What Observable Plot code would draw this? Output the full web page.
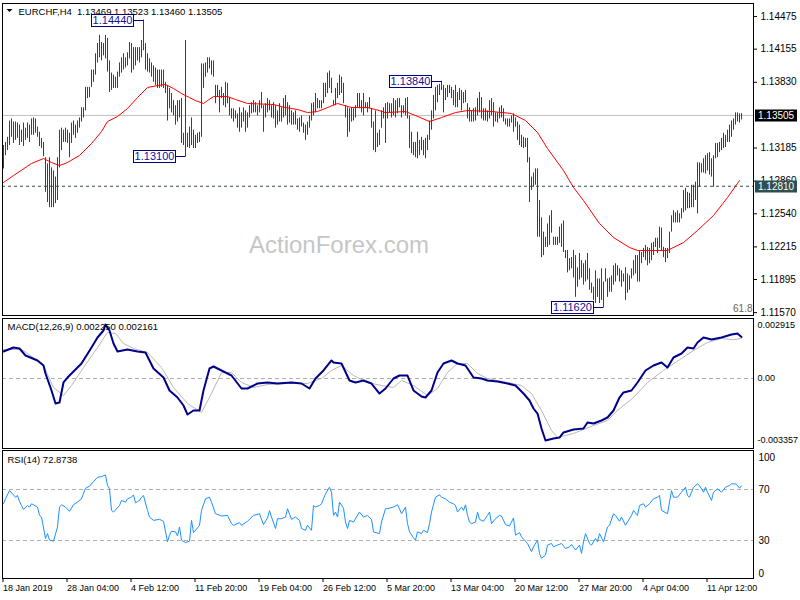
<!DOCTYPE html>
<html><head><meta charset="utf-8">
<script src="https://cdn.jsdelivr.net/npm/d3@7"></script>
<script src="https://cdn.jsdelivr.net/npm/@observablehq/plot@0.6"></script>
<style>
body{margin:0;background:#fff;}
#wrap{position:relative;width:800px;height:600px;overflow:hidden;background:#fff;}
#wrap svg{position:absolute;left:0;overflow:visible;}
</style></head><body><div id="wrap"></div>
<script>
// ---- data ----
const highs = [1.1321,1.1324,1.1329,1.1345,1.1347,1.1344,1.1344,1.1343,1.1341,1.1336,
1.1343,1.1338,1.1343,1.1341,1.1347,1.1348,1.1347,1.1339,1.1334,1.1328,
1.1324,1.1309,1.1303,1.1309,1.1299,1.1296,1.1290,1.1309,1.1336,1.1338,
1.1336,1.1338,1.1336,1.1333,1.1343,1.1345,1.1341,1.1345,1.1348,1.1358,
1.1358,1.1378,1.1378,1.1378,1.1395,1.1395,1.1411,1.1421,1.1429,1.1422,
1.1421,1.1429,1.1426,1.1404,1.1392,1.1390,1.1388,1.1393,1.1402,1.1407,
1.1411,1.1407,1.1412,1.1422,1.1421,1.1417,1.1417,1.1417,1.1417,1.1424,
1.1444,1.1421,1.1411,1.1406,1.1402,1.1399,1.1397,1.1395,1.1395,1.1395,
1.1395,1.1383,1.1380,1.1377,1.1372,1.1365,1.1360,1.1365,1.1365,1.1367,
1.1333,1.1424,1.1333,1.1339,1.1348,1.1336,1.1331,1.1333,1.1334,1.1401,
1.1401,1.1402,1.1407,1.1407,1.1404,1.1404,1.1380,1.1380,1.1375,1.1378,
1.1372,1.1383,1.1382,1.1368,1.1357,1.1357,1.1355,1.1352,1.1358,1.1353,
1.1358,1.1355,1.1353,1.1360,1.1363,1.1365,1.1363,1.1360,1.1365,1.1373,
1.1360,1.1362,1.1367,1.1365,1.1360,1.1363,1.1360,1.1355,1.1362,1.1358,
1.1367,1.1370,1.1363,1.1360,1.1355,1.1353,1.1355,1.1347,1.1348,1.1350,
1.1343,1.1341,1.1344,1.1350,1.1362,1.1363,1.1372,1.1367,1.1365,1.1365,
1.1382,1.1382,1.1392,1.1394,1.1387,1.1365,1.1377,1.1382,1.1390,1.1388,
1.1382,1.1360,1.1358,1.1357,1.1358,1.1357,1.1360,1.1372,1.1372,1.1365,
1.1372,1.1363,1.1363,1.1368,1.1357,1.1344,1.1355,1.1333,1.1336,1.1355,
1.1358,1.1362,1.1363,1.1362,1.1362,1.1367,1.1365,1.1367,1.1367,1.1360,
1.1360,1.1367,1.1368,1.1350,1.1334,1.1324,1.1324,1.1334,1.1326,1.1329,
1.1326,1.1328,1.1331,1.1345,1.1355,1.1370,1.1378,1.1380,1.1381,1.1384,
1.1380,1.1377,1.1380,1.1380,1.1378,1.1375,1.1380,1.1373,1.1377,1.1375,
1.1373,1.1375,1.1362,1.1358,1.1355,1.1357,1.1358,1.1367,1.1373,1.1368,
1.1357,1.1357,1.1355,1.1365,1.1367,1.1363,1.1353,1.1353,1.1358,1.1360,
1.1357,1.1347,1.1347,1.1347,1.1350,1.1352,1.1348,1.1344,1.1341,1.1331,
1.1329,1.1328,1.1328,1.1309,1.1290,1.1294,1.1298,1.1298,1.1267,1.1250,
1.1236,1.1231,1.1244,1.1252,1.1257,1.1231,1.1231,1.1231,1.1241,1.1244,
1.1247,1.1218,1.1218,1.1210,1.1211,1.1218,1.1213,1.1201,1.1215,1.1208,
1.1205,1.1208,1.1215,1.1200,1.1186,1.1182,1.1198,1.1190,1.1190,1.1200,
1.1187,1.1200,1.1190,1.1191,1.1193,1.1203,1.1205,1.1203,1.1200,1.1198,
1.1195,1.1201,1.1195,1.1193,1.1200,1.1208,1.1213,1.1213,1.1218,1.1216,
1.1220,1.1223,1.1221,1.1220,1.1225,1.1226,1.1230,1.1230,1.1241,1.1240,
1.1221,1.1220,1.1220,1.1236,1.1252,1.1257,1.1255,1.1257,1.1254,1.1259,
1.1277,1.1279,1.1275,1.1274,1.1282,1.1282,1.1285,1.1304,1.1304,1.1303,
1.1308,1.1311,1.1313,1.1314,1.1308,1.1311,1.1323,1.1323,1.1324,1.1328,
1.1333,1.1331,1.1336,1.1341,1.1345,1.1347,1.1353,1.1353,1.1352,1.13523];

const lows = [1.1298,1.1311,1.1316,1.1321,1.1329,1.1323,1.1326,1.1328,1.1321,1.1324,
1.1320,1.1326,1.1328,1.1324,1.1331,1.1331,1.1333,1.1329,1.1320,1.1318,
1.1310,1.1275,1.1265,1.1260,1.1260,1.1260,1.1264,1.1267,1.1299,1.1316,
1.1324,1.1324,1.1323,1.1309,1.1323,1.1331,1.1328,1.1333,1.1338,1.1344,
1.1348,1.1355,1.1367,1.1368,1.1378,1.1383,1.1390,1.1402,1.1407,1.1404,
1.1409,1.1406,1.1393,1.1373,1.1375,1.1377,1.1377,1.1377,1.1388,1.1392,
1.1395,1.1397,1.1399,1.1406,1.1392,1.1395,1.1399,1.1404,1.1402,1.1407,
1.1414,1.1395,1.1393,1.1392,1.1388,1.1383,1.1380,1.1377,1.1377,1.1378,
1.1377,1.1372,1.1345,1.1357,1.1353,1.1350,1.1341,1.1344,1.1348,1.1323,
1.1321,1.1310,1.1319,1.1318,1.1321,1.1318,1.1318,1.1323,1.1324,1.1329,
1.1377,1.1388,1.1392,1.1396,1.1390,1.1388,1.1362,1.1368,1.1353,1.1367,
1.1360,1.1358,1.1362,1.1350,1.1347,1.1344,1.1347,1.1338,1.1334,1.1338,
1.1344,1.1334,1.1338,1.1348,1.1352,1.1353,1.1353,1.1350,1.1353,1.1357,
1.1334,1.1348,1.1353,1.1355,1.1348,1.1347,1.1338,1.1341,1.1344,1.1344,
1.1348,1.1350,1.1341,1.1343,1.1341,1.1341,1.1341,1.1336,1.1334,1.1339,
1.1333,1.1326,1.1331,1.1338,1.1345,1.1350,1.1353,1.1357,1.1357,1.1357,
1.1362,1.1368,1.1372,1.1377,1.1372,1.1360,1.1360,1.1367,1.1370,1.1372,
1.1362,1.1348,1.1329,1.1334,1.1344,1.1345,1.1348,1.1358,1.1357,1.1353,
1.1350,1.1357,1.1353,1.1357,1.1338,1.1316,1.1314,1.1319,1.1321,1.1338,
1.1347,1.1323,1.1347,1.1353,1.1348,1.1350,1.1348,1.1352,1.1358,1.1348,
1.1352,1.1350,1.1347,1.1318,1.1313,1.1311,1.1309,1.1308,1.1311,1.1316,
1.1311,1.1308,1.1316,1.1326,1.1336,1.1347,1.1355,1.1363,1.1370,1.1375,
1.1353,1.1365,1.1368,1.1372,1.1367,1.1360,1.1358,1.1358,1.1365,1.1355,
1.1362,1.1363,1.1347,1.1344,1.1344,1.1344,1.1345,1.1350,1.1353,1.1347,
1.1345,1.1345,1.1344,1.1347,1.1350,1.1339,1.1344,1.1343,1.1347,1.1348,
1.1344,1.1341,1.1339,1.1339,1.1343,1.1334,1.1339,1.1326,1.1321,1.1319,
1.1318,1.1319,1.1304,1.1265,1.1277,1.1280,1.1282,1.1231,1.1231,1.1211,
1.1213,1.1221,1.1221,1.1223,1.1235,1.1223,1.1223,1.1223,1.1225,1.1221,
1.1216,1.1210,1.1196,1.1198,1.1200,1.1191,1.1172,1.1182,1.1189,1.1191,
1.1184,1.1187,1.1189,1.1179,1.1176,1.1169,1.1166,1.1172,1.1166,1.1169,
1.1162,1.1187,1.1172,1.1177,1.1177,1.1184,1.1187,1.1193,1.1187,1.1182,
1.1187,1.1169,1.1176,1.1179,1.1190,1.1193,1.1195,1.1187,1.1187,1.1205,
1.1211,1.1208,1.1203,1.1205,1.1208,1.1213,1.1221,1.1215,1.1220,1.1218,
1.1211,1.1206,1.1210,1.1215,1.1236,1.1245,1.1245,1.1245,1.1245,1.1249,
1.1255,1.1257,1.1259,1.1259,1.1260,1.1260,1.1267,1.1254,1.1280,1.1294,
1.1294,1.1293,1.1296,1.1292,1.1290,1.1280,1.1308,1.1309,1.1314,1.1316,
1.1318,1.1319,1.1324,1.1324,1.1329,1.1336,1.1341,1.1344,1.1343,1.13460];

const maBars = [0,5,14,20,24,28,32,38,44,49,52,57,62,67,72,77,81,85,89,93,96,100,102,105,112,116,122,135,141,147,152,157,162,167,174,182,186,191,201,206,213,219,226,232,244,254,261,267,272,280,285,290,298,305,313,317,332,340,347,355,362,368];
const maValues = [1.12847,1.12915,1.13033,1.13082,1.13043,1.13013,1.13043,1.13112,1.13229,1.13347,1.13445,1.13494,1.13573,1.13680,1.13779,1.13798,1.13808,1.13769,1.13720,1.13680,1.13651,1.13622,1.13651,1.13690,1.13690,1.13661,1.13622,1.13612,1.13582,1.13563,1.13533,1.13543,1.13582,1.13622,1.13582,1.13582,1.13563,1.13533,1.13543,1.13504,1.13445,1.13484,1.13533,1.13553,1.13543,1.13524,1.13455,1.13337,1.13180,1.12964,1.12798,1.12670,1.12444,1.12307,1.12209,1.12180,1.12180,1.12258,1.12376,1.12523,1.12699,1.12866];

const macdBars = [0,5,8,11,17,20,21,24,26,28,30,32,39,44,47,50,51,53,55,57,62,67,71,75,80,83,87,90,92,95,98,100,103,105,109,114,119,122,127,132,137,144,149,153,156,160,164,165,169,173,176,180,184,188,191,195,198,202,205,209,211,214,217,220,224,227,231,235,239,242,247,252,256,260,263,265,267,269,271,275,278,280,285,290,292,295,299,302,305,308,310,314,317,321,325,329,332,335,339,342,345,347,350,354,359,364,367,369];
const macdValues = [0.001461,0.001677,0.001623,0.001244,0.000974,0.000703,0.000271,-0.000649,-0.001353,-0.001298,-0.000216,0.000054,0.000812,0.001677,0.002218,0.002597,0.002915,0.002597,0.001894,0.001461,0.001569,0.001461,0.001407,0.000541,0.000054,-0.000649,-0.001028,-0.001461,-0.001948,-0.001731,-0.001731,-0.000649,0.000541,0.000649,0.000433,0.000162,-0.000541,-0.000541,-0.000271,-0.000216,-0.000271,-0.000216,-0.000271,-0.000541,0,0.000433,0.000974,0.000866,0.000812,-0.000108,-0.000216,-0.000108,-0.000271,-0.000812,-0.000541,0,0.000162,0.000162,-0.000649,-0.000974,-0.001028,-0.000649,0.000325,0.000812,0.000974,0.000812,0.000703,0.000054,0,-0.000108,-0.000162,-0.000271,-0.000379,-0.000812,-0.001190,-0.001623,-0.001894,-0.002705,-0.003357,-0.003246,-0.003192,-0.002921,-0.002759,-0.002705,-0.002380,-0.002435,-0.002272,-0.002110,-0.001731,-0.001028,-0.000757,-0.000649,-0.000216,0.000433,0.000703,0.000866,0.000595,0.001136,0.001353,0.001677,0.001623,0.001948,0.002218,0.002110,0.002218,0.002380,0.002435,0.002250];

const signalBars = [0,9,15,20,25,30,34,40,47,52,56,60,65,72,79,85,92,99,104,109,114,119,125,132,142,152,159,164,169,175,182,189,195,199,205,212,217,222,227,232,237,242,252,259,264,269,274,277,285,295,302,307,315,322,330,339,345,352,359,365,369];
const signalValues = [0.001569,0.001569,0.001136,0.000703,-0.000487,-0.000920,-0.000379,0.000595,0.001677,0.002489,0.002435,0.001894,0.001623,0.001407,0.000595,-0.000487,-0.001353,-0.001839,-0.000812,0.000325,0.000325,-0.000216,-0.000487,-0.000325,-0.000271,-0.000271,0,0.000433,0.000703,0.000162,-0.000216,-0.000379,-0.000487,-0.000108,-0.000379,-0.000920,-0.000541,0.000325,0.000812,0.000812,0.000271,0,-0.000216,-0.000379,-0.000812,-0.001731,-0.002813,-0.003192,-0.002976,-0.002543,-0.002272,-0.001731,-0.001028,-0.000216,0.000433,0.001082,0.001515,0.001948,0.002164,0.002100,0.002161];

const rsiBars = [0,1,3,5,6,7,8,9,10,12,13,14,15,17,18,19,21,22,23,25,27,28,29,31,33,35,37,39,41,43,45,47,49,51,52,53,54,55,58,59,61,62,64,65,66,67,68,69,70,72,73,75,78,80,82,83,84,86,87,88,89,91,93,94,95,97,98,99,101,103,104,106,109,112,114,115,118,119,122,125,128,130,132,133,134,136,137,139,141,142,144,146,148,149,151,152,154,155,156,158,159,161,163,164,165,166,167,168,170,171,172,173,175,178,180,182,184,185,188,189,191,193,195,197,198,199,201,202,203,205,206,207,209,210,212,213,214,216,218,219,221,223,225,226,227,229,230,231,232,233,234,236,237,238,240,242,243,244,246,248,249,251,253,255,256,258,259,262,264,265,267,268,269,271,272,274,275,277,279,281,283,284,286,288,289,290,291,293,294,296,297,298,300,302,303,305,306,308,309,311,314,315,317,318,320,321,323,325,327,328,329,332,334,335,337,339,341,342,343,345,347,348,350,351,352,354,355,357,359,361,363,364,366,367,368,369];
const rsiValues = [58.8,62.7,69.2,65.8,64.0,65.3,60.6,57.5,54.4,57.5,56.2,58.8,58.0,56.2,49.7,48.4,31.6,35.4,30.3,29.5,40.6,56.2,58.0,56.2,52.9,58.0,60.1,62.7,71.0,72.6,76.2,79.6,80.1,81.4,73.1,70.5,53.6,52.3,57.5,61.4,60.1,62.7,64.0,65.8,59.6,60.6,61.4,64.0,65.3,53.6,48.4,45.8,46.6,45.1,29.0,34.2,37.3,36.8,33.6,40.6,30.3,28.4,29.5,45.8,36.2,39.9,41.9,53.6,62.7,64.0,60.1,51.0,49.2,49.7,43.2,41.9,44.0,41.9,45.1,49.7,51.0,42.5,47.7,53.4,48.4,39.4,47.1,47.1,48.4,54.9,46.6,48.4,45.8,39.4,38.0,41.9,38.0,57.5,56.2,57.5,58.8,66.6,71.8,67.9,49.7,52.3,48.4,60.1,55.4,44.5,39.4,45.8,44.5,52.3,48.4,49.7,46.6,36.8,35.4,44.5,54.9,55.4,56.2,58.0,54.9,51.0,56.2,43.2,36.8,32.1,30.3,36.8,35.4,38.0,36.2,43.2,52.3,64.0,65.8,64.0,62.7,60.1,58.8,57.5,52.3,56.2,53.6,58.0,49.7,44.5,43.2,44.5,52.3,46.6,45.1,49.7,52.3,43.2,47.1,49.7,49.2,42.5,41.4,47.7,34.2,36.2,32.9,27.7,21.2,25.0,30.3,19.9,16.0,18.6,26.4,27.7,25.0,26.4,27.7,23.8,25.0,26.9,22.5,26.4,19.9,29.0,35.4,27.7,26.4,31.6,29.0,35.4,29.0,40.6,41.9,51.0,49.7,45.1,48.4,41.9,49.7,53.6,49.7,57.5,58.8,56.2,58.8,62.7,64.0,65.3,53.6,51.0,69.2,64.0,64.0,67.9,71.8,65.3,64.0,71.8,74.4,73.1,67.9,71.8,67.9,61.4,67.9,70.5,67.9,71.8,73.1,74.4,74.4,73.1,71.0,72.9];

const timeTickBars = [0,32,64,96,128,160,192,224,256,288,320,352];
const timeTickLabels = ["18 Jan 2019","28 Jan 04:00","4 Feb 12:00","11 Feb 20:00","19 Feb 04:00","26 Feb 12:00","5 Mar 20:00","13 Mar 04:00","20 Mar 12:00","27 Mar 20:00","4 Apr 04:00","11 Apr 12:00"];
const priceTicks = [1.14475,1.14155,1.13830,1.13185,1.12860,1.12540,1.12215,1.11895,1.11570];
const macdTicks = [0.002915,0,-0.003357];
const rsiLevels = [70,30];
const swingBars = [70,91,219,300];
const swingPrices = [1.14440,1.13100,1.13840,1.11620];
const currentPrice = 1.13505;
const linePrice = 1.12810;

// ---- drawing ----
const FONT = "'Liberation Sans', Arial, sans-serif";
const BAR = "#1b4a66";
const xDomain = [-0.5, 375];
const wrap = document.getElementById("wrap");
const style = {fontFamily: FONT, fontSize: "10px", background: "transparent", color: "#000", overflow: "visible"};

const bars = highs.map((h, i) => ({i, h, l: lows[i]}));
const ma = maBars.map((b, k) => ({i: b, v: maValues[k]}));
const macd = macdBars.map((b, k) => ({i: b, v: macdValues[k]}));
const sig = signalBars.map((b, k) => ({i: b, v: signalValues[k]}));
const rsi = rsiBars.map((b, k) => ({i: b, v: rsiValues[k]}));

const main = Plot.plot({
  width: 800, height: 317, marginLeft: 2, marginRight: 47, marginTop: 3, marginBottom: 2,
  style,
  x: {domain: xDomain, axis: null},
  y: {domain: [1.11542, 1.14603], axis: null},
  marks: [
    Plot.text(["ActionForex.com"], {frameAnchor: "top-left", dx: 336.5, dy: 242, text: d => d, fill: "#c6c6c6", fontSize: 24, textAnchor: "middle", lineAnchor: "middle"}),
    Plot.ruleY([currentPrice], {stroke: "#c0c0c0"}),
    Plot.ruleY([linePrice], {stroke: "#2f4f4f", strokeDasharray: "3,3"}),
    Plot.ruleX(bars, {x: "i", y1: "l", y2: "h", stroke: BAR, strokeWidth: 1}),
    Plot.line(ma, {x: "i", y: "v", stroke: "#ff0000", strokeWidth: 1}),
    Plot.axisY(priceTicks, {anchor: "right", label: null, tickSize: 3, tickPadding: 4, tickFormat: d => d.toFixed(5), fontSize: 10}),
    Plot.text(["EURCHF,H4  1.13469 1.13523 1.13460 1.13505"], {frameAnchor: "top-left", dx: 16, dy: 8, text: d => d, textAnchor: "start", lineAnchor: "middle", fill: "#000", fontSize: 9.5}),
    Plot.text(["61.8"], {frameAnchor: "bottom-right", dx: -1, dy: -6.5, text: d => d, textAnchor: "end", lineAnchor: "middle", fill: "#6a6256"}),
    Plot.frame({stroke: "#000"})
  ]
});
main.style.top = "0px";
wrap.appendChild(main);

const macdPlot = Plot.plot({
  width: 800, height: 132, marginLeft: 2, marginRight: 47, marginTop: 1, marginBottom: 1,
  style,
  x: {domain: xDomain, axis: null},
  y: {domain: [-0.003787, 0.003246], axis: null},
  marks: [
    Plot.ruleY([0], {stroke: "#b0b0b0", strokeDasharray: "4,3"}),
    Plot.line(sig, {x: "i", y: "v", stroke: "#b8b8b8", strokeWidth: 1}),
    Plot.line(macd, {x: "i", y: "v", stroke: "#00008b", strokeWidth: 2}),
    Plot.axisY(macdTicks, {anchor: "right", label: null, tickSize: 0, tickPadding: 4, tickFormat: d => d === 0 ? "0.00" : d.toFixed(6), fontSize: 9}),
    Plot.text(["MACD(12,26,9) 0.002250 0.002161"], {frameAnchor: "top-left", dx: 5, dy: 8, text: d => d, textAnchor: "start", lineAnchor: "middle", fill: "#000", fontSize: 9.5}),
    Plot.frame({stroke: "#000"})
  ]
});
macdPlot.style.top = "317px";
wrap.appendChild(macdPlot);

const rsiPlot = Plot.plot({
  width: 800, height: 151, marginLeft: 2, marginRight: 47, marginTop: 1, marginBottom: 22,
  style,
  x: {domain: xDomain, axis: null},
  y: {domain: [0.2, 100.6], axis: null},
  marks: [
    Plot.ruleY(rsiLevels, {stroke: "#b0b0b0", strokeDasharray: "4,3"}),
    Plot.line(rsi, {x: "i", y: "v", stroke: "#1e90ff", strokeWidth: 1}),
    Plot.axisY(rsiLevels, {anchor: "right", label: null, tickSize: 0, tickPadding: 5, fontSize: 10}),
    Plot.text(["100"], {frameAnchor: "top-right", dx: 5, dy: 7, text: d => d, textAnchor: "start", lineAnchor: "middle", fill: "#000"}),
    Plot.text(["0"], {frameAnchor: "bottom-right", dx: 5, dy: -5, text: d => d, textAnchor: "start", lineAnchor: "middle", fill: "#000"}),
    Plot.axisX(timeTickBars, {anchor: "bottom", label: null, tickSize: 4, tickPadding: 2, textAnchor: "start", dx: -0.5, tickFormat: d => timeTickLabels[timeTickBars.indexOf(d)], fontSize: 9}),
    Plot.text(["RSI(14) 72.8738"], {frameAnchor: "top-left", dx: 5, dy: 9, text: d => d, textAnchor: "start", lineAnchor: "middle", fill: "#000", fontSize: 9.5}),
    Plot.frame({stroke: "#000"})
  ]
});
rsiPlot.style.top = "449px";
wrap.appendChild(rsiPlot);

// ---- annotations placed through the main plot's scales ----
const sx = main.scale("x"), sy = main.scale("y");
const svg = d3.select(main);
const g = svg.append("g").attr("font-family", FONT).attr("font-size", 11).attr("text-anchor", "start");
swingBars.forEach((b, k) => {
  const bx = Math.round(sx.apply(b)) + 0.5;
  const by = Math.round(sy.apply(swingPrices[k])) + 0.5;
  const w = 42, h = 12;
  g.append("line").attr("x1", bx - 10).attr("x2", bx).attr("y1", by).attr("y2", by).attr("stroke", "#000080");
  g.append("rect").attr("x", bx - 10 - w).attr("y", by - h / 2).attr("width", w).attr("height", h)
    .attr("fill", "#fff").attr("stroke", "#000080");
  g.append("text").attr("x", bx - 10 - w / 2).attr("y", by).attr("dy", "0.35em").attr("text-anchor", "middle")
    .attr("fill", "#1010a0").text(swingPrices[k].toFixed(5));
});
const rightX = 800 - 47;
[[currentPrice, "#000000"], [linePrice, "#2f4f4f"]].forEach(([p, c]) => {
  const by = Math.round(sy.apply(p)) + 0.5;
  g.append("rect").attr("x", rightX + 2).attr("y", by - 6).attr("width", 42).attr("height", 12).attr("fill", c);
  g.append("text").attr("x", rightX + 5).attr("y", by).attr("dy", "0.35em").attr("text-anchor", "start")
    .attr("font-size", 10).attr("fill", "#fff").text(p.toFixed(5));
});
// small menu triangle at the title
g.append("path").attr("d", "M6.5,9 L12.5,9 L9.5,12 Z").attr("fill", "#000");
</script>
</body></html>
